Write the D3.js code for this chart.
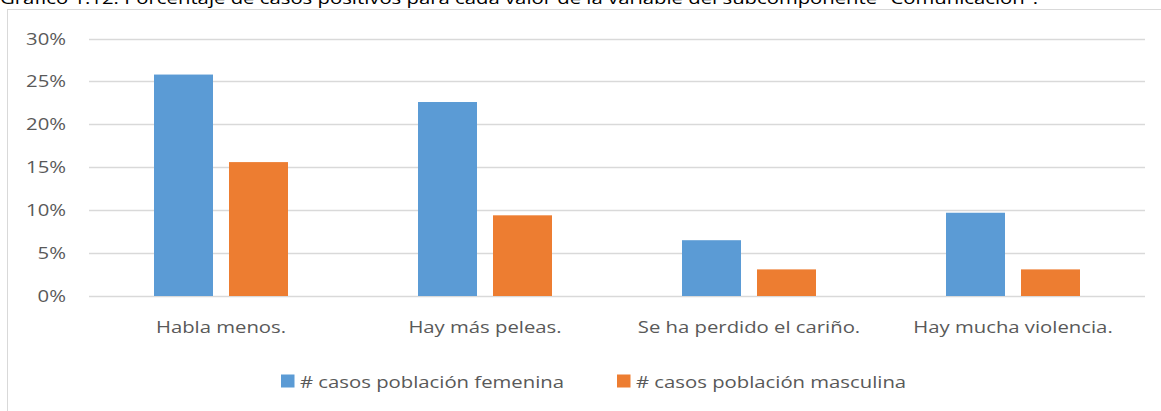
<!DOCTYPE html>
<html>
<head>
<meta charset="utf-8">
<script src="https://cdn.jsdelivr.net/npm/d3@7/dist/d3.min.js"></script>
<style>
html,body{margin:0;padding:0;background:#fff;overflow:hidden;}
svg{display:block;font-family:"Open Sans",sans-serif;}
</style>
</head>
<body>
<svg id="chart" width="1161" height="411"></svg>
<script>
const titleText = "Gráfico 1.12: Porcentaje de casos positivos para cada valor de la variable del subcomponente \"Comunicación\".";
const categories = ["Habla menos.", "Hay más peleas.", "Se ha perdido el cariño.", "Hay mucha violencia."];
const seriesNames = ["# casos población femenina", "# casos población masculina"];
const femenina = [0.258, 0.226, 0.065, 0.097];
const masculina = [0.156, 0.094, 0.031, 0.031];
const yTicks = [0, 0.05, 0.10, 0.15, 0.20, 0.25, 0.30];
const colors = ["#5b9bd5", "#ed7d31"];

const SX = 1.23; // horizontal text stretch
const svg = d3.select("#chart");

// frame
svg.append("rect").attr("x", 7.5).attr("y", 9.5).attr("width", 1200).attr("height", 500)
  .attr("fill", "none").attr("stroke", "#d9d9d9").attr("stroke-width", 1);

// title (clipped at top)
svg.append("text").attr("transform", "translate(0,4) scale(" + SX + ",1)")
  .attr("font-size", 16.5).attr("fill", "#000").text(titleText);

const x0 = d3.scaleBand().domain(categories).range([89, 1145]).padding(0);
const x1 = d3.scaleBand().domain(seriesNames).range([-67, 67]).paddingInner(16 / 75).paddingOuter(0);
const y = d3.scaleLinear().domain([0, 0.30]).range([296, 38.5]);

// gridlines
svg.append("g").selectAll("line").data(yTicks).join("line")
  .attr("x1", 89).attr("x2", 1145)
  .attr("y1", d => Math.round(y(d)) + 0.5).attr("y2", d => Math.round(y(d)) + 0.5)
  .attr("stroke", "#d9d9d9").attr("stroke-width", 1.3);

// y tick labels
const fmt = d3.format(".0%");
svg.append("g").selectAll("text").data(yTicks).join("text")
  .attr("transform", d => "translate(66," + (y(d) + 6) + ") scale(" + SX + ",1)")
  .attr("text-anchor", "end").attr("font-size", 16.5).attr("fill", "#595959")
  .text(d => fmt(d));

// bars
const rows = categories.map((c, i) => ({cat: c, vals: [femenina[i], masculina[i]]}));
const g = svg.append("g").selectAll("g").data(rows).join("g")
  .attr("transform", d => "translate(" + (x0(d.cat) + x0.bandwidth() / 2) + ",0)");
g.selectAll("rect").data(d => d.vals.map((v, j) => ({s: seriesNames[j], v, j}))).join("rect")
  .attr("x", d => x1(d.s)).attr("width", x1.bandwidth())
  .attr("y", d => y(d.v)).attr("height", d => y(0) - y(d.v))
  .attr("fill", d => colors[d.j]);

// category labels
svg.append("g").selectAll("text").data(categories).join("text")
  .attr("transform", d => "translate(" + (x0(d) + x0.bandwidth() / 2) + ",333) scale(" + SX + ",1)")
  .attr("text-anchor", "middle").attr("font-size", 16.5).attr("fill", "#595959")
  .text(d => d);

// legend
const legendX = [281, 617];
const lg = svg.append("g").selectAll("g").data(seriesNames).join("g")
  .attr("transform", (d, i) => "translate(" + legendX[i] + ",0)");
lg.append("rect").attr("x", 0).attr("y", 374.5).attr("width", 13.5).attr("height", 13)
  .attr("fill", (d, i) => colors[i]);
lg.append("text").attr("transform", "translate(19,388) scale(" + SX + ",1)")
  .attr("font-size", 16.5).attr("fill", "#595959").text(d => d);
</script>
</body>
</html>
